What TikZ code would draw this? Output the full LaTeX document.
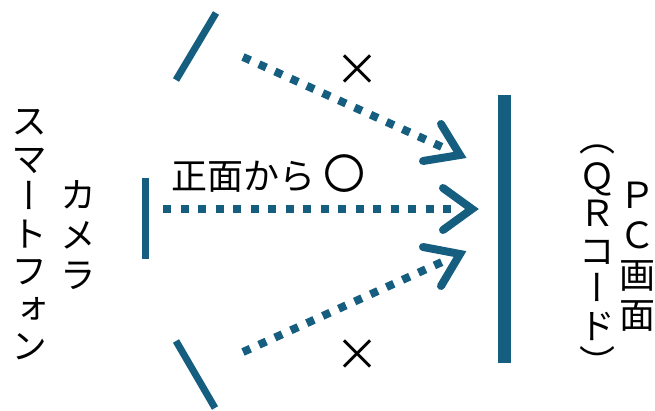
\documentclass[tikz,border=0pt]{standalone}
\usepackage{fontspec}
\newfontfamily\jp{Noto Sans CJK JP}
\newfontfamily\jpv[RawFeature=+vert]{Noto Sans CJK JP}
\definecolor{barc}{RGB}{22,94,128}
\begin{document}
\begin{tikzpicture}[x=1pt,y=-1pt,
  barline/.style={draw=barc,line width=7pt},
  pcbar/.style={draw=barc,line width=13pt},
  dotline/.style={draw=barc,line width=8pt,dash pattern=on 8pt off 9.5pt},
  chevron/.style={draw=barc,line width=8pt,line cap=round,line join=miter},
  lbl/.style={inner sep=0pt,font=\jp\fontsize{36}{40}\selectfont},
  crosslbl/.style={inner sep=0pt,font=\jp\fontsize{44}{48}\selectfont},
  vlbl/.style={inner sep=0pt,align=center,font=\jpv\fontsize{36}{37.5}\selectfont},
  vlblw/.style={inner sep=0pt,align=center,font=\jpv\fontsize{36}{40}\selectfont}]
\useasboundingbox (0,0) rectangle (655,411);
% bars (cameras)
\coordinate (b1a) at (216,13);
\coordinate (b1b) at (176,80);
\coordinate (b2a) at (145,178);
\coordinate (b2b) at (145,259);
\coordinate (b3a) at (176,341);
\coordinate (b3b) at (215,408);
\path[barline] (b1a) -- (b1b);
\path[barline] (b2a) -- (b2b);
\path[barline] (b3a) -- (b3b);
% PC bar
\coordinate (pca) at (504.5,95);
\coordinate (pcb) at (504.5,363);
\path[pcbar] (pca) -- (pcb);
% top arrow
\coordinate (s1) at (243,57);
\coordinate (e1) at (442,147);
\coordinate (t1) at (460,155);
\coordinate (t1a) at (441,124);
\coordinate (t1b) at (423,161);
\path[dotline] (s1) -- (e1);
\path[chevron] (t1a) -- (t1) -- (t1b);
% middle arrow
\coordinate (s2) at (163,209);
\coordinate (e2) at (452,209);
\coordinate (t2) at (472,209);
\coordinate (t2a) at (443,188);
\coordinate (t2b) at (443,230);
\path[dotline] (s2) -- (e2);
\path[chevron] (t2a) -- (t2) -- (t2b);
% bottom arrow
\coordinate (s3) at (243,352);
\coordinate (e3) at (442,262);
\coordinate (t3) at (460,254);
\coordinate (t3a) at (423,247);
\coordinate (t3b) at (441,286);
\path[dotline] (s3) -- (e3);
\path[chevron] (t3a) -- (t3) -- (t3b);
% labels
\node[lbl,anchor=west] (front) at (171,174) {正面から {\fontsize{42}{44}\selectfont 〇}};
\node[crosslbl] (x1) at (357,70) {×};
\node[crosslbl] (x2) at (357,355) {×};
\node[vlbl] (phone) at (30,235) {ス\\マ\\ー\\ト\\フ\\ォ\\ン};
\node[vlblw] (cam) at (78,235) {カ\\メ\\ラ};
\node[vlblw] (pc) at (637,257) {Ｐ\\Ｃ\\画\\面};
\node[vlbl] (qr) at (597,261) {（\\Ｑ\\Ｒ\\コ\\ー\\ド\\）};
\end{tikzpicture}
\end{document}
